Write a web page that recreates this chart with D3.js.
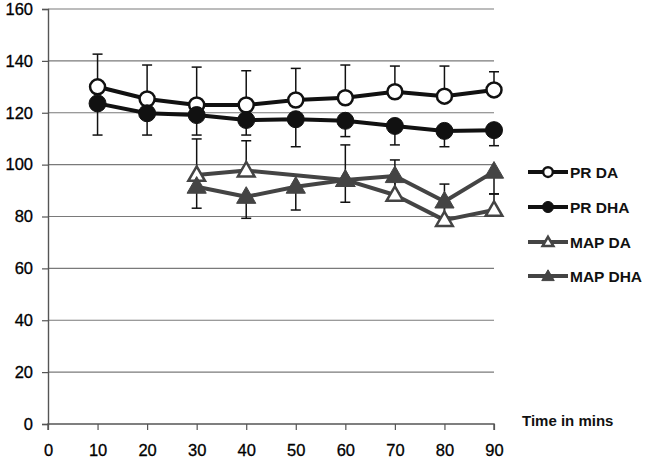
<!DOCTYPE html>
<html><head><meta charset="utf-8">
<script src="https://cdn.jsdelivr.net/npm/d3@7/dist/d3.min.js"></script>
<style>body{margin:0;background:#fff;} svg{display:block;}</style>
</head><body>
<script>
const times = [10, 20, 30, 40, 50, 60, 70, 80, 90];
const yTicks = [0, 20, 40, 60, 80, 100, 120, 140, 160];
const xTicks = [0, 10, 20, 30, 40, 50, 60, 70, 80, 90];
const seriesNames = ["PR DA", "PR DHA", "MAP DA", "MAP DHA"];
const prDA   = [130.0, 125.3, 123.0, 123.0, 124.9, 125.8, 128.1, 126.4, 128.8];
const prDHA  = [123.6, 119.8, 119.1, 117.2, 117.5, 116.9, 114.9, 113.0, 113.3];
const mapDA  = [null, null, 96.0, 97.7, null, 94.1, 88.3, 78.6, 82.5];
const mapDHA = [null, null, 91.5, 87.6, 91.5, 94.1, 95.6, 85.8, 97.3];
// error sizes (DA series: upward, DHA series: downward)
const prDAErr   = [12.6, 13.1, 14.6, 13.2, 12.2, 12.6, 9.9, 11.6, 7.0];
const prDHAErr  = [12.2, 8.4, 7.7, 5.8, 10.6, 6.1, 7.3, 6.1, 6.0];
const mapDAErr  = [null, null, 13.9, 11.5, null, 13.5, 13.5, 13.9, 6.2];
const mapDHAErr = [null, null, 8.3, 8.3, 9.0, 8.6, 6.6, 6.0, 8.6];

const W = 650, H = 458;
const svg = d3.select("body").append("svg").attr("width", W).attr("height", H);
const x = d3.scaleLinear().domain([0, 90]).range([48, 494]);
const y = d3.scaleLinear().domain([0, 160]).range([424, 9]);
const font = "'Liberation Sans', Arial, sans-serif";

// gridlines
svg.append("g").selectAll("line").data(yTicks.filter(d => d > 0)).join("line")
  .attr("x1", x(0)).attr("x2", x(90)).attr("y1", d => y(d)).attr("y2", d => y(d))
  .attr("stroke", "#7a7a7a").attr("stroke-width", 1.2);

// axes
const yAxis = svg.append("g").attr("transform", `translate(${x(0)},0)`)
  .call(d3.axisLeft(y).tickValues(yTicks).tickSize(6).tickPadding(9));
const xAxis = svg.append("g").attr("transform", `translate(0,${y(0)})`)
  .call(d3.axisBottom(x).tickValues(xTicks).tickSize(6).tickPadding(14));
[yAxis, xAxis].forEach(g => {
  g.select(".domain").attr("stroke", "#555").attr("stroke-width", 1.4);
  g.selectAll(".tick line").attr("stroke", "#555").attr("stroke-width", 1.2);
  g.selectAll("text").attr("font-family", font).attr("font-size", 16.5)
    .attr("fill", "#000").attr("stroke", "#000").attr("stroke-width", 0.3);
});
xAxis.select(".domain").attr("d", `M${x(0)},6V0H${x(90)}V6`);

svg.append("text").attr("x", 522).attr("y", 426).attr("font-family", font)
  .attr("font-size", 15).attr("font-weight", "bold").attr("fill", "#111").text("Time in mins");

const series = [
  {name: seriesNames[0], vals: prDA, err: prDAErr, dir: 1, color: "#111", marker: "circle", fill: "#fff"},
  {name: seriesNames[1], vals: prDHA, err: prDHAErr, dir: -1, color: "#111", marker: "circle", fill: "#111"},
  {name: seriesNames[2], vals: mapDA, err: mapDAErr, dir: 1, color: "#444", marker: "triangle", fill: "#fff"},
  {name: seriesNames[3], vals: mapDHA, err: mapDHAErr, dir: -1, color: "#444", marker: "triangle", fill: "#444"}
];

const line = d3.line().x(d => x(d.t)).y(d => y(d.v));
const pts = s => times.map((t, i) => ({t, v: s.vals[i], e: s.err[i]})).filter(d => d.v != null);

// lines
series.forEach(s => {
  svg.append("path").datum(pts(s)).attr("d", line).attr("fill", "none")
    .attr("stroke", s.color).attr("stroke-width", 4).attr("stroke-linejoin", "round");
});
// error bars
series.forEach(s => {
  const g = svg.append("g");
  pts(s).filter(d => d.e != null).forEach(d => {
    const ye = y(d.v + s.dir * d.e);
    g.append("line").attr("x1", x(d.t)).attr("x2", x(d.t)).attr("y1", y(d.v)).attr("y2", ye)
      .attr("stroke", "#111").attr("stroke-width", 1.5);
    g.append("line").attr("x1", x(d.t) - 5).attr("x2", x(d.t) + 5).attr("y1", ye).attr("y2", ye)
      .attr("stroke", "#111").attr("stroke-width", 1.5);
  });
});
// markers
const tri = d3.symbol().type(d3.symbolTriangle);
function drawMarker(g, s, cx, cy, scale) {
  if (s.marker === "circle") {
    g.append("circle").attr("cx", cx).attr("cy", cy).attr("r", (s.fill === "#fff" ? 7.5 : 8.5) * scale)
      .attr("fill", s.fill).attr("stroke", s.color).attr("stroke-width", s.fill === "#fff" ? 2.5 : 1);
  } else {
    g.append("path").attr("d", tri.size((s.fill === "#fff" ? 120 : 160) * scale * scale)())
      .attr("transform", `translate(${cx},${cy + 1})`)
      .attr("fill", s.fill).attr("stroke", s.color).attr("stroke-width", s.fill === "#fff" ? 2.5 : 1);
  }
}
series.forEach(s => {
  const g = svg.append("g");
  pts(s).forEach(d => drawMarker(g, s, x(d.t), y(d.v), 1));
});

// legend
const legY = [172, 207, 242, 276];
series.forEach((s, i) => {
  const g = svg.append("g");
  g.append("line").attr("x1", 528).attr("x2", 568).attr("y1", legY[i]).attr("y2", legY[i])
    .attr("stroke", s.color).attr("stroke-width", 4);
  drawMarker(g, s, 548, legY[i], 0.65);
  g.append("text").attr("x", 570).attr("y", legY[i] + 5.5).attr("font-family", font)
    .attr("font-size", 15.5).attr("font-weight", "bold").attr("fill", "#111").text(s.name);
});
</script>
</body></html>
